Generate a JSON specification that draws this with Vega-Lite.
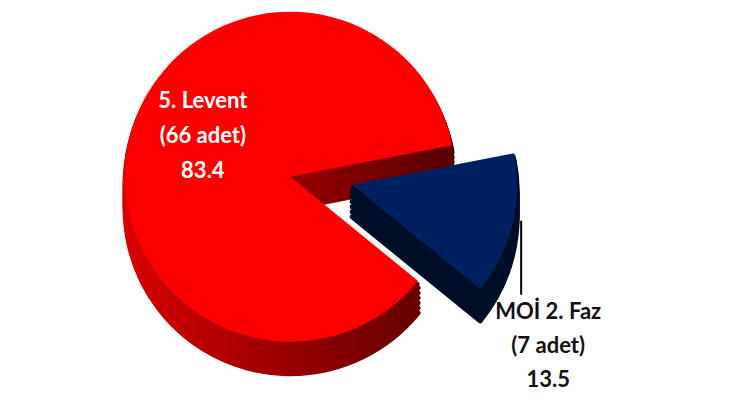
{
  "$schema": "https://vega.github.io/schema/vega-lite/v6.json",
  "width": 744,
  "height": 411,
  "autosize": {"type": "fit", "contains": "padding"},
  "padding": 0,
  "background": "#ffffff",
  "config": {"view": {"stroke": null}},
  "params": [
    {"name": "cx", "expr": "width*0.39"},
    {"name": "cy", "expr": "height*0.43"}
  ],
  "data": {
    "values": [
      {"name": "MOİ 2. Faz", "count": 7, "value": 13.5},
      {"name": "5. Levent", "count": 66, "value": 83.4}
    ]
  },
  "transform": [
    {"calculate": "datum.name + '\\n(' + datum.count + ' adet)\\n' + format(datum.value, '.1f')", "as": "label"}
  ],
  "layer": [
    {"mark": {"type": "arc", "radius": 165, "x": {"expr": "cx"}, "y": {"expr": "cy+32"}, "strokeWidth": 5, "strokeJoin": "round", "fill": {"gradient": "linear", "x1": 0, "y1": 0, "x2": 1, "y2": 0, "stops": [{"offset": 0, "color": "#d80000"}, {"offset": 1, "color": "#580000"}]}, "stroke": {"gradient": "linear", "x1": 0, "y1": 0, "x2": 1, "y2": 0, "stops": [{"offset": 0, "color": "#d80000"}, {"offset": 1, "color": "#580000"}]}},
      "encoding": {"theta": {"field": "value", "type": "quantitative", "stack": true, "scale": {"range": [1.379, 7.662]}}, "order": {"field": "value", "type": "quantitative", "sort": "ascending"}, "opacity": {"condition": {"test": "datum.name === '5. Levent'", "value": 1}, "value": 0}}},
    {"mark": {"type": "arc", "radius": 165, "x": {"expr": "cx"}, "y": {"expr": "cy+27"}, "strokeWidth": 5, "strokeJoin": "round", "fill": {"gradient": "linear", "x1": 0, "y1": 0, "x2": 1, "y2": 0, "stops": [{"offset": 0, "color": "#d80000"}, {"offset": 1, "color": "#580000"}]}, "stroke": {"gradient": "linear", "x1": 0, "y1": 0, "x2": 1, "y2": 0, "stops": [{"offset": 0, "color": "#d80000"}, {"offset": 1, "color": "#580000"}]}},
      "encoding": {"theta": {"field": "value", "type": "quantitative", "stack": true, "scale": {"range": [1.379, 7.662]}}, "order": {"field": "value", "type": "quantitative", "sort": "ascending"}, "opacity": {"condition": {"test": "datum.name === '5. Levent'", "value": 1}, "value": 0}}},
    {"mark": {"type": "arc", "radius": 165, "x": {"expr": "cx"}, "y": {"expr": "cy+22"}, "strokeWidth": 5, "strokeJoin": "round", "fill": {"gradient": "linear", "x1": 0, "y1": 0, "x2": 1, "y2": 0, "stops": [{"offset": 0, "color": "#d80000"}, {"offset": 1, "color": "#580000"}]}, "stroke": {"gradient": "linear", "x1": 0, "y1": 0, "x2": 1, "y2": 0, "stops": [{"offset": 0, "color": "#d80000"}, {"offset": 1, "color": "#580000"}]}},
      "encoding": {"theta": {"field": "value", "type": "quantitative", "stack": true, "scale": {"range": [1.379, 7.662]}}, "order": {"field": "value", "type": "quantitative", "sort": "ascending"}, "opacity": {"condition": {"test": "datum.name === '5. Levent'", "value": 1}, "value": 0}}},
    {"mark": {"type": "arc", "radius": 165, "x": {"expr": "cx"}, "y": {"expr": "cy+17"}, "strokeWidth": 5, "strokeJoin": "round", "fill": {"gradient": "linear", "x1": 0, "y1": 0, "x2": 1, "y2": 0, "stops": [{"offset": 0, "color": "#d80000"}, {"offset": 1, "color": "#580000"}]}, "stroke": {"gradient": "linear", "x1": 0, "y1": 0, "x2": 1, "y2": 0, "stops": [{"offset": 0, "color": "#d80000"}, {"offset": 1, "color": "#580000"}]}},
      "encoding": {"theta": {"field": "value", "type": "quantitative", "stack": true, "scale": {"range": [1.379, 7.662]}}, "order": {"field": "value", "type": "quantitative", "sort": "ascending"}, "opacity": {"condition": {"test": "datum.name === '5. Levent'", "value": 1}, "value": 0}}},
    {"mark": {"type": "arc", "radius": 165, "x": {"expr": "cx"}, "y": {"expr": "cy+12"}, "strokeWidth": 5, "strokeJoin": "round", "fill": {"gradient": "linear", "x1": 0, "y1": 0, "x2": 1, "y2": 0, "stops": [{"offset": 0, "color": "#d80000"}, {"offset": 1, "color": "#580000"}]}, "stroke": {"gradient": "linear", "x1": 0, "y1": 0, "x2": 1, "y2": 0, "stops": [{"offset": 0, "color": "#d80000"}, {"offset": 1, "color": "#580000"}]}},
      "encoding": {"theta": {"field": "value", "type": "quantitative", "stack": true, "scale": {"range": [1.379, 7.662]}}, "order": {"field": "value", "type": "quantitative", "sort": "ascending"}, "opacity": {"condition": {"test": "datum.name === '5. Levent'", "value": 1}, "value": 0}}},
    {"mark": {"type": "arc", "radius": 165, "x": {"expr": "cx"}, "y": {"expr": "cy+7"}, "strokeWidth": 5, "strokeJoin": "round", "fill": {"gradient": "linear", "x1": 0, "y1": 0, "x2": 1, "y2": 0, "stops": [{"offset": 0, "color": "#d80000"}, {"offset": 1, "color": "#580000"}]}, "stroke": {"gradient": "linear", "x1": 0, "y1": 0, "x2": 1, "y2": 0, "stops": [{"offset": 0, "color": "#d80000"}, {"offset": 1, "color": "#580000"}]}},
      "encoding": {"theta": {"field": "value", "type": "quantitative", "stack": true, "scale": {"range": [1.379, 7.662]}}, "order": {"field": "value", "type": "quantitative", "sort": "ascending"}, "opacity": {"condition": {"test": "datum.name === '5. Levent'", "value": 1}, "value": 0}}},
    {"mark": {"type": "arc", "radius": 165, "x": {"expr": "cx"}, "y": {"expr": "cy+3"}, "strokeWidth": 3, "strokeJoin": "round", "fill": {"gradient": "linear", "x1": 0, "y1": 0, "x2": 1, "y2": 0, "stops": [{"offset": 0, "color": "#d80000"}, {"offset": 1, "color": "#580000"}]}, "stroke": {"gradient": "linear", "x1": 0, "y1": 0, "x2": 1, "y2": 0, "stops": [{"offset": 0, "color": "#d80000"}, {"offset": 1, "color": "#580000"}]}},
      "encoding": {"theta": {"field": "value", "type": "quantitative", "stack": true, "scale": {"range": [1.379, 7.662]}}, "order": {"field": "value", "type": "quantitative", "sort": "ascending"}, "opacity": {"condition": {"test": "datum.name === '5. Levent'", "value": 1}, "value": 0}}},
    {"mark": {"type": "arc", "radius": 165, "x": {"expr": "cx"}, "y": {"expr": "cy"}, "fill": "#fc0000"},
      "encoding": {"theta": {"field": "value", "type": "quantitative", "stack": true, "scale": {"range": [1.379, 7.662]}}, "order": {"field": "value", "type": "quantitative", "sort": "ascending"}, "opacity": {"condition": {"test": "datum.name === '5. Levent'", "value": 1}, "value": 0}}},
    {"mark": {"type": "arc", "radius": 165, "x": {"expr": "cx+62"}, "y": {"expr": "cy+40"}, "fill": "#000e28", "stroke": "#000e28", "strokeWidth": 5, "strokeJoin": "round"},
      "encoding": {"theta": {"field": "value", "type": "quantitative", "stack": true, "scale": {"range": [1.379, 7.662]}}, "order": {"field": "value", "type": "quantitative", "sort": "ascending"}, "opacity": {"condition": {"test": "datum.name === 'MOİ 2. Faz'", "value": 1}, "value": 0}}},
    {"mark": {"type": "arc", "radius": 165, "x": {"expr": "cx+62"}, "y": {"expr": "cy+35"}, "fill": "#000e28", "stroke": "#000e28", "strokeWidth": 5, "strokeJoin": "round"},
      "encoding": {"theta": {"field": "value", "type": "quantitative", "stack": true, "scale": {"range": [1.379, 7.662]}}, "order": {"field": "value", "type": "quantitative", "sort": "ascending"}, "opacity": {"condition": {"test": "datum.name === 'MOİ 2. Faz'", "value": 1}, "value": 0}}},
    {"mark": {"type": "arc", "radius": 165, "x": {"expr": "cx+62"}, "y": {"expr": "cy+30"}, "fill": "#000e28", "stroke": "#000e28", "strokeWidth": 5, "strokeJoin": "round"},
      "encoding": {"theta": {"field": "value", "type": "quantitative", "stack": true, "scale": {"range": [1.379, 7.662]}}, "order": {"field": "value", "type": "quantitative", "sort": "ascending"}, "opacity": {"condition": {"test": "datum.name === 'MOİ 2. Faz'", "value": 1}, "value": 0}}},
    {"mark": {"type": "arc", "radius": 165, "x": {"expr": "cx+62"}, "y": {"expr": "cy+25"}, "fill": "#000e28", "stroke": "#000e28", "strokeWidth": 5, "strokeJoin": "round"},
      "encoding": {"theta": {"field": "value", "type": "quantitative", "stack": true, "scale": {"range": [1.379, 7.662]}}, "order": {"field": "value", "type": "quantitative", "sort": "ascending"}, "opacity": {"condition": {"test": "datum.name === 'MOİ 2. Faz'", "value": 1}, "value": 0}}},
    {"mark": {"type": "arc", "radius": 165, "x": {"expr": "cx+62"}, "y": {"expr": "cy+20"}, "fill": "#000e28", "stroke": "#000e28", "strokeWidth": 5, "strokeJoin": "round"},
      "encoding": {"theta": {"field": "value", "type": "quantitative", "stack": true, "scale": {"range": [1.379, 7.662]}}, "order": {"field": "value", "type": "quantitative", "sort": "ascending"}, "opacity": {"condition": {"test": "datum.name === 'MOİ 2. Faz'", "value": 1}, "value": 0}}},
    {"mark": {"type": "arc", "radius": 165, "x": {"expr": "cx+62"}, "y": {"expr": "cy+15"}, "fill": "#000e28", "stroke": "#000e28", "strokeWidth": 5, "strokeJoin": "round"},
      "encoding": {"theta": {"field": "value", "type": "quantitative", "stack": true, "scale": {"range": [1.379, 7.662]}}, "order": {"field": "value", "type": "quantitative", "sort": "ascending"}, "opacity": {"condition": {"test": "datum.name === 'MOİ 2. Faz'", "value": 1}, "value": 0}}},
    {"mark": {"type": "arc", "radius": 165, "x": {"expr": "cx+62"}, "y": {"expr": "cy+11"}, "fill": "#000e28", "stroke": "#000e28", "strokeWidth": 3, "strokeJoin": "round"},
      "encoding": {"theta": {"field": "value", "type": "quantitative", "stack": true, "scale": {"range": [1.379, 7.662]}}, "order": {"field": "value", "type": "quantitative", "sort": "ascending"}, "opacity": {"condition": {"test": "datum.name === 'MOİ 2. Faz'", "value": 1}, "value": 0}}},
    {"mark": {"type": "arc", "radius": 165, "x": {"expr": "cx+62"}, "y": {"expr": "cy+8"}, "fill": "#002060"},
      "encoding": {"theta": {"field": "value", "type": "quantitative", "stack": true, "scale": {"range": [1.379, 7.662]}}, "order": {"field": "value", "type": "quantitative", "sort": "ascending"}, "opacity": {"condition": {"test": "datum.name === 'MOİ 2. Faz'", "value": 1}, "value": 0}}},
    {
      "mark": {"type": "text", "x": {"expr": "cx"}, "y": {"expr": "cy"}, "dy": -54, "fill": "#ffffff",
        "font": "Lato", "fontSize": 22, "fontWeight": "bold", "lineBreak": "\n", "lineHeight": 35,
        "align": "center", "baseline": "middle"},
      "encoding": {
        "theta": {"field": "value", "type": "quantitative", "stack": true, "scale": {"range": [1.379, 7.662]}},
        "order": {"field": "value", "type": "quantitative", "sort": "ascending"},
        "radius": {"value": 90},
        "text": {"field": "label"},
        "opacity": {"condition": {"test": "datum.name === '5. Levent'", "value": 1}, "value": 0}
      }
    },
    {
      "transform": [{"filter": "datum.name === 'MOİ 2. Faz'"}],
      "mark": {"type": "rule", "color": "#000000", "strokeWidth": 2},
      "encoding": {
        "x": {"value": {"expr": "cx+231"}},
        "y": {"value": {"expr": "cy+44"}},
        "y2": {"value": {"expr": "cy+118"}}
      }
    },
    {
      "transform": [{"filter": "datum.name === 'MOİ 2. Faz'"}],
      "mark": {"type": "text", "x": {"expr": "cx+258"}, "y": {"expr": "cy+135"}, "fill": "#111111",
        "font": "Lato", "fontSize": 22, "fontWeight": "bold", "lineBreak": "\n", "lineHeight": 34,
        "align": "center", "baseline": "middle"},
      "encoding": {"text": {"field": "label"}}
    }
  ]
}
